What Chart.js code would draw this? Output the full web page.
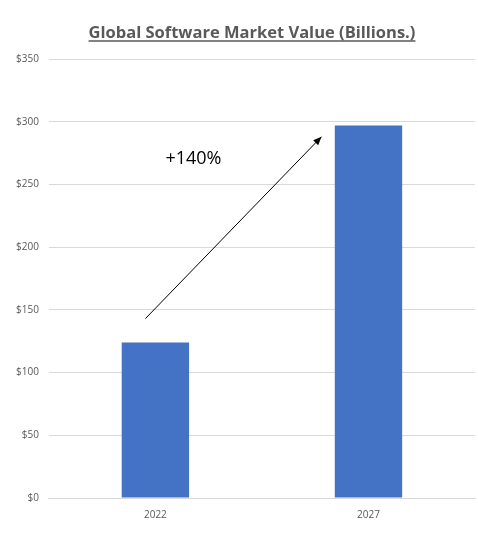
<!DOCTYPE html>
<html>
<head>
<meta charset="utf-8">
<script src="https://cdn.jsdelivr.net/npm/chart.js@4"></script>
<style>
  body { margin: 0; background: #fff; }
  #wrap { width: 478px; height: 536px; }
</style>
</head>
<body>
<div id="wrap"><canvas id="c"></canvas></div>
<script>
const years = ["2022", "2027"];
const marketValue = [124, 297];
const yTicks = [0, 50, 100, 150, 200, 250, 300, 350];
const growthLabel = "+140%";
const titleText = "Global Software Market Value (Billions.)";

// title with underline, plus the growth arrow
const extras = {
  id: "extras",
  afterDraw(chart) {
    const ctx = chart.ctx;
    const xs = chart.scales.x, ys = chart.scales.y;
    ctx.save();
    ctx.font = "bold 16.5px 'Open Sans', sans-serif";
    ctx.fillStyle = "#595959";
    ctx.textAlign = "center";
    ctx.textBaseline = "alphabetic";
    const tx = 252, ty = 38;
    ctx.fillText(titleText, tx, ty);
    const w = ctx.measureText(titleText).width;
    ctx.strokeStyle = "#595959";
    ctx.lineWidth = 1.5;
    ctx.beginPath();
    ctx.moveTo(tx - w / 2, ty + 3);
    ctx.lineTo(tx + w / 2, ty + 3);
    ctx.stroke();

    // arrow
    const x1 = xs.getPixelForValue(0) - 10, y1 = ys.getPixelForValue(143);
    const x2 = xs.getPixelForValue(1) - 47, y2 = ys.getPixelForValue(288);
    ctx.strokeStyle = "#000";
    ctx.lineWidth = 1;
    ctx.beginPath();
    ctx.moveTo(x1, y1);
    ctx.lineTo(x2, y2);
    ctx.stroke();
    const a = Math.atan2(y2 - y1, x2 - x1);
    ctx.fillStyle = "#000";
    ctx.beginPath();
    ctx.moveTo(x2, y2);
    ctx.lineTo(x2 - 9 * Math.cos(a - 0.4), y2 - 9 * Math.sin(a - 0.4));
    ctx.lineTo(x2 - 9 * Math.cos(a + 0.4), y2 - 9 * Math.sin(a + 0.4));
    ctx.closePath();
    ctx.fill();

    ctx.font = "18px 'Open Sans', sans-serif";
    ctx.textAlign = "center";
    ctx.textBaseline = "middle";
    ctx.fillText(growthLabel, (x1 + x2) / 2 - 40, ys.getPixelForValue(270));
    ctx.restore();
  }
};

new Chart(document.getElementById("c"), {
  type: "bar",
  data: {
    labels: years,
    datasets: [
      {
        data: marketValue,
        backgroundColor: "#4472C4",
        categoryPercentage: 0.62,
        barPercentage: 0.51,
      },
    ],
  },
  options: {
    responsive: true,
    maintainAspectRatio: false,
    animation: false,
    layout: { padding: { top: 59, right: 3, bottom: 12, left: 6 } },
    scales: {
      x: {
        grid: { display: false },
        border: { color: "#d9d9d9" },
        ticks: { color: "#595959", font: { size: 10, family: "'Open Sans', sans-serif" } },
      },
      y: {
        min: 0,
        max: 350,
        afterBuildTicks: (s) => { s.ticks = yTicks.map((v) => ({ value: v })); },
        grid: { color: "#d9d9d9", drawTicks: false },
        border: { display: false },
        ticks: {
          color: "#595959",
          padding: 10,
          font: { size: 10, family: "'Open Sans', sans-serif" },
          callback: (v) => "$" + v,
        },
      },
    },
    plugins: {
      legend: { display: false },
      tooltip: { enabled: false },
    },
  },
  plugins: [extras],
});
</script>
</body>
</html>
